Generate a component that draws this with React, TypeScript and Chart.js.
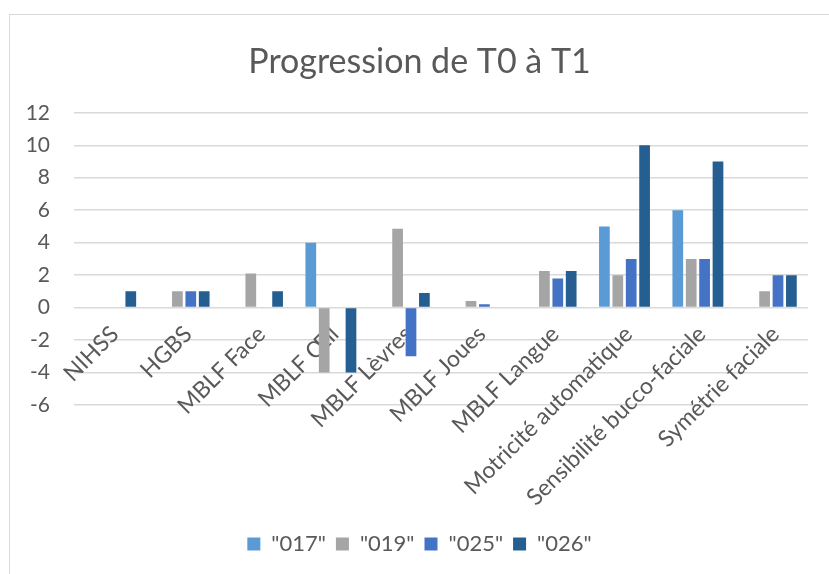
import React, { useEffect, useRef } from "react";
import { Chart, registerables } from "chart.js";

Chart.register(...registerables);

const categories = [
  "NIHSS",
  "HGBS",
  "MBLF Face",
  "MBLF Œil",
  "MBLF Lèvres",
  "MBLF Joues",
  "MBLF Langue",
  "Motricité automatique",
  "Sensibilité bucco-faciale",
  "Symétrie faciale",
];

const seriesNames = ['"017"', '"019"', '"025"', '"026"'];
const s017 = [0, 0, 0, 4, 0, 0, 0, 5, 6, 0];
const s019 = [0, 1, 2.1, -4, 4.85, 0.4, 2.25, 2, 3, 1];
const s025 = [0, 1, 0, 0, -3, 0.2, 1.8, 3, 3, 2];
const s026 = [1, 1, 1, -4, 0.9, 0, 2.25, 10, 9, 2];
const seriesColors = ["#5B9BD5", "#A5A5A5", "#4472C4", "#255E91"];

const yMin = -6;
const yMax = 12;
const yStep = 2;
const titleText = "Progression de T0 à T1";

export default function App() {
  const canvasRef = useRef<HTMLCanvasElement | null>(null);

  useEffect(() => {
    if (!canvasRef.current) return;
    const textColor = "#595959";
    const font = "Lato";
    const values = [s017, s019, s025, s026];
    const chart = new Chart(canvasRef.current, {
      type: "bar",
      data: {
        labels: categories,
        datasets: values.map((v, i) => ({
          label: seriesNames[i],
          data: v,
          backgroundColor: seriesColors[i],
          borderWidth: 0,
          categoryPercentage: 0.73,
          barPercentage: 0.8,
        })),
      },
      options: {
        responsive: false,
        animation: false,
        layout: { padding: { left: 0, right: 0, top: 0, bottom: 9 } },
        plugins: {
          title: {
            display: true,
            text: titleText,
            color: textColor,
            font: { family: font, size: 34, weight: "normal" },
            padding: { top: 27, bottom: 30 },
          },
          legend: {
            position: "bottom",
            labels: {
              color: textColor,
              font: { family: font, size: 22 },
              boxWidth: 13,
              boxHeight: 13,
              padding: 10,
            },
          },
          tooltip: { enabled: false },
        },
        scales: {
          x: {
            position: { y: 0 } as any,
            grid: { display: false, drawTicks: false },
            border: { display: false },
            ticks: {
              color: textColor,
              font: { family: font, size: 23 },
              minRotation: 45,
              maxRotation: 45,
              autoSkip: false,
              padding: 13,
              labelOffset: 4,
            },
            afterFit: (scale: any) => {
              scale.height = 0;
            },
          },
          xSpacer: {
            type: "category",
            position: "bottom",
            labels: categories,
            grid: { display: false, drawTicks: false },
            border: { display: false },
            ticks: { display: false },
            afterFit: (scale: any) => {
              scale.height = 118;
            },
          },
          y: {
            min: yMin,
            max: yMax,
            grid: { color: "#d9d9d9", lineWidth: 1.5, drawTicks: false },
            border: { display: false },
            ticks: {
              stepSize: yStep,
              color: textColor,
              font: { family: font, size: 21 },
              padding: 24,
            },
            afterFit: (scale: any) => {
              scale.width = 64;
            },
          },
          ySpacer: {
            type: "linear",
            position: "right",
            min: yMin,
            max: yMax,
            grid: { display: false, drawTicks: false },
            border: { display: false },
            ticks: { display: false },
            afterFit: (scale: any) => {
              scale.width = 21;
            },
          },
        },
      },
    });
    return () => chart.destroy();
  }, []);

  return (
    <div
      style={{
        position: "absolute",
        left: 9,
        top: 14,
        width: 820,
        height: 560,
        boxSizing: "border-box",
        borderLeft: "1px solid #d9d9d9",
        borderTop: "1px solid #d9d9d9",
        background: "#ffffff",
      }}
    >
      <canvas ref={canvasRef} width={819} height={559} style={{ display: "block" }} />
    </div>
  );
}
